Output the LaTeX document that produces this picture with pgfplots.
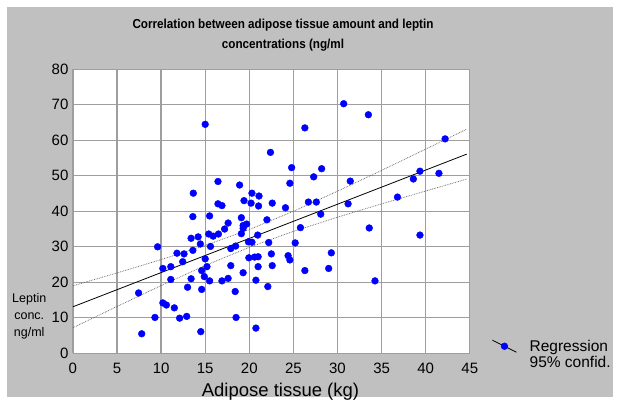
\documentclass[border=0pt]{standalone}
\usepackage{fontspec}
\setmainfont{Liberation Sans}
\newfontfamily\titlefont[FakeStretch=0.9]{Liberation Sans}
\usepackage{pgfplots}
\pgfplotsset{compat=1.18}
\definecolor{bggray}{RGB}{192,192,192}
\definecolor{gridgray}{RGB}{158,158,158}
\definecolor{dotblue}{RGB}{0,0,255}

\begin{document}
\begin{tikzpicture}[x=1pt,y=1pt]
\useasboundingbox (0,0) rectangle (617,403);
\fill[white] (0,0) rectangle (617,403);
\fill[bggray] (7,6) rectangle (613,396);
\node[align=center, font=\titlefont\bfseries\fontsize{13}{20}\selectfont] at (283,367.5)
  {Correlation between adipose tissue amount and leptin\\concentrations (ng/ml};

\begin{axis}[
    at={(72.9pt,49.7pt)}, anchor=south west,
    scale only axis, width=396.9pt, height=284pt,
    xmin=0, xmax=45, ymin=0, ymax=80,
    xtick={0,5,...,45}, ytick={0,10,...,80},
    major tick length=0pt,
    axis line style={draw=none},
    axis background/.style={fill=white},
    grid=major,
    major grid style={draw=gridgray, line width=1.3pt},
    /pgf/number format/assume math mode=true,
    tick label style={font=\fontsize{15}{15}\selectfont},
    xticklabel style={yshift=-6.5pt},
    yticklabel style={xshift=-1pt},
    xlabel={Adipose tissue (kg)},
    every axis x label/.style={at={(axis description cs:0.523,-0.136)}, anchor=center, font=\fontsize{18.5}{18.5}\selectfont},
    ylabel={Leptin\\conc.\\ng/ml},
    every axis y label/.style={at={(axis description cs:-0.110,0.129)}, anchor=center, align=center, font=\fontsize{12.5}{17}\selectfont},
    legend style={at={(axis description cs:1.048,0.062)}, anchor=north west, draw=none, fill=none,
        font=\fontsize{15.5}{16}\selectfont, cells={align=left}},
    clip=false,
]
% regression line and 95% confidence band
\addplot[black, line width=0.8pt, forget plot] coordinates {(0,13.1) (44.65,56.1)};
\addplot[black!65, densely dotted, line width=0.7pt, forget plot] coordinates {
  (0,19.0) (5,22.64) (10,26.39) (15,30.38) (20,34.86) (25,40.01) (30,45.65) (35,51.53) (40,57.52) (44.65,63.14)};
\addplot[black!65, densely dotted, line width=0.7pt, forget plot] coordinates {
  (0,7.2) (5,13.20) (10,19.07) (15,24.72) (20,29.86) (25,34.35) (30,38.33) (35,42.09) (40,45.72) (44.65,49.06)};
% measurements
\addplot[only marks, mark=*, mark size=3.4pt, draw=dotblue, fill=dotblue, forget plot] coordinates {
  (15.0,64.5) (16.45,48.4) (13.65,45.1) (16.45,42.1) (16.9,41.6) (13.6,38.5) (15.5,38.7) (17.6,36.7)
  (17.2,35.0) (9.6,30.0) (13.4,32.4) (14.2,32.8) (15.4,33.6) (15.9,33.0) (16.5,33.6) (14.45,30.8)
  (15.6,30.1) (13.6,29.0) (11.8,28.2) (12.6,28.0) (12.45,25.8) (15.0,26.6) (17.9,29.5) (10.2,23.9)
  (11.1,24.4) (15.2,24.4) (17.9,24.7) (14.6,23.3) (14.9,21.6) (13.4,21.0) (11.1,20.8) (15.5,20.4)
  (16.9,20.4) (17.6,21.1) (13.0,18.6) (14.6,18.0) (18.4,17.4) (7.45,17.0) (10.2,14.2) (10.6,13.6)
  (11.5,12.8) (9.3,10.1) (12.1,9.9) (12.9,10.4) (18.5,10.1) (7.8,5.5) (14.5,6.1) (19.1,38.2)
  (19.4,43.0) (20.2,42.3) (19.3,36.0) (19.7,36.4) (19.3,35.2) (19.1,33.7) (19.9,31.4) (20.3,31.3)
  (18.45,30.2) (19.3,22.7) (19.95,26.9) (20.6,27.1) (21.0,27.2) (21.0,24.4) (20.75,20.6) (20.75,7.1)
  (20.95,33.3) (21.05,41.5) (22.2,31.2) (25.2,31.1) (25.8,35.4) (22.5,28.0) (24.4,27.5) (24.6,26.3)
  (29.3,28.3) (29.0,23.9) (26.3,23.3) (22.6,24.7) (22.1,18.8) (30.7,70.3) (33.5,67.2) (26.3,63.5)
  (22.4,56.6) (24.8,52.3) (28.2,52.0) (27.3,49.7) (24.6,47.9) (31.45,48.5) (18.9,47.4) (20.3,45.1)
  (21.1,44.3) (22.6,42.3) (24.1,41.0) (26.7,42.6) (27.6,42.6) (31.2,42.1) (28.1,39.2) (22.0,37.6)
  (42.2,60.4) (39.35,51.3) (38.6,49.1) (41.5,50.7) (36.8,44.0) (33.6,35.3) (39.35,33.3) (34.25,20.4)
};
\addlegendimage{legend image code/.code={
    \draw[black, line width=0.8pt] (-4pt,14pt) -- (20pt,2pt);
    \fill[dotblue] (8pt,8pt) circle (3.4pt);
    \path (31pt,0pt);}}
\addlegendentry{Regression\\95\% confid.}
\end{axis}
\end{tikzpicture}
\end{document}
